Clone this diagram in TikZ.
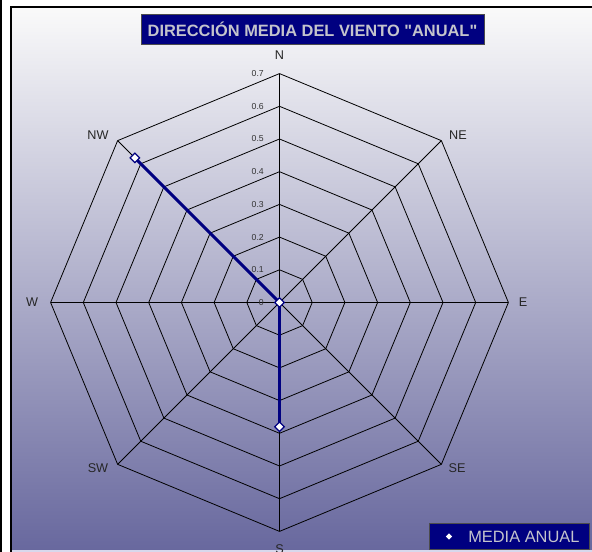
\documentclass[tikz,border=0pt]{standalone}
\usepackage{fontspec}
\setmainfont{Liberation Sans}
\usetikzlibrary{shapes.geometric}
\definecolor{navy}{RGB}{0,0,128}
\definecolor{ttl}{RGB}{196,196,204}
\definecolor{bgtop}{RGB}{250,250,250}
\definecolor{bgmid}{RGB}{204,204,222}
\definecolor{bgbot}{RGB}{104,104,158}
\definecolor{strip}{RGB}{216,216,236}
\begin{document}
\begin{tikzpicture}[x=0.75pt,y=0.75pt,
  grid/.style={black, line width=0.6pt},
  axlabel/.style={font=\fontsize{9.5}{10}\selectfont, inner sep=0, text=black!85},
  ticklabel/.style={font=\fontsize{6.5}{7}\selectfont, anchor=east, inner sep=0, text=black!80},
  series/.style={navy, line width=2.2pt},
  marker/.style={diamond, draw=navy, fill=white, line width=0.9pt, minimum size=7.5pt, inner sep=0},
  boxstyle/.style={fill=navy, draw=black!70, line width=0.4pt, inner sep=0}]
\useasboundingbox (0,0) rectangle (592,552);
\fill[white] (0,0) rectangle (592,552);
\shade[top color=bgtop, middle color=bgmid, bottom color=bgbot] (11,2) rectangle (592,545);
\fill[strip] (12,0) rectangle (592,2);
\fill[black] (0,0) rectangle (2,552);
\fill[black] (10,0) rectangle (12,546);
\fill[black] (10,544) rectangle (592,546);
% title
\node[boxstyle, minimum width=257pt, minimum height=22.5pt] (title) at (312.5,523)
  {\fontsize{12.3}{13}\selectfont\bfseries\color{ttl}DIRECCIÓN MEDIA DEL VIENTO \textquotedbl ANUAL\textquotedbl};
\begin{scope}[shift={(279.5,249.5)}]
  \foreach \k in {1,...,7}{
    \pgfmathsetmacro\r{\k*32.7}
    \draw[grid] (90:\r) -- (45:\r) -- (0:\r) -- (-45:\r) -- (-90:\r) -- (-135:\r) -- (180:\r) -- (135:\r) -- cycle;
  }
  \foreach \a in {0,45,...,315} \draw[grid] (0,0) -- (\a:228.9);
  \node[ticklabel] (t0) at (-15.5,0) {0};
  \foreach \k in {1,...,7} \node[ticklabel] (t\k) at (-15.5,\k*32.7) {0.\k};
  \node[axlabel] (lN) at (0,247.5) {N};
  \node[axlabel] (lNE) at (178.5,167.5) {NE};
  \node[axlabel] (lE) at (243.5,0) {E};
  \node[axlabel] (lSE) at (177.5,-165.5) {SE};
  \node[axlabel] (lS) at (0,-246.5) {S};
  \node[axlabel] (lSW) at (-181.5,-165.5) {SW};
  \node[axlabel] (lW) at (-247.5,0) {W};
  \node[axlabel] (lNW) at (-181.5,167.5) {NW};
  \coordinate (o) at (0,0);
  \coordinate (pS) at (-90:124.2);
  \coordinate (pNW) at (135:204.5);
  \draw[series] (pS) -- (o) -- (pNW);
  \node[marker] (mO) at (o) {};
  \node[marker] (mS) at (pS) {};
  \node[marker] (mNW) at (pNW) {};
\end{scope}
% legend
\node[boxstyle, minimum width=120pt, minimum height=19.5pt] (legend) at (509,16) {};
\node[diamond, fill=white, minimum size=5pt, inner sep=0] (legmark) at (449,15.5) {};
\node[anchor=west, inner sep=0, font=\fontsize{12.3}{13}\selectfont, text=ttl] (legtext) at (468,15.5) {MEDIA ANUAL};
\end{tikzpicture}
\end{document}
